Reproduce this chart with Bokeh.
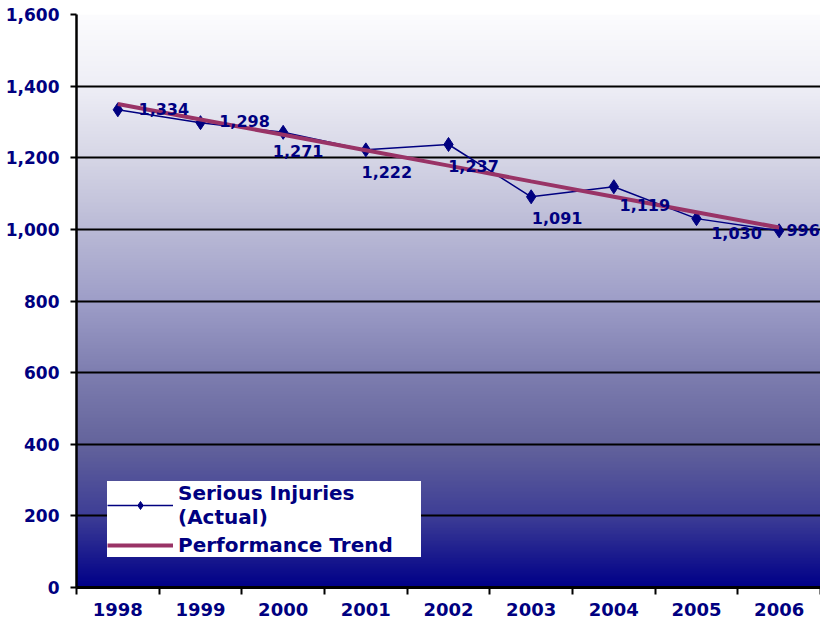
import numpy as np
from bokeh.plotting import figure
from bokeh.models import (ColumnDataSource, Range1d, FixedTicker,
                          NumeralTickFormatter, Legend, LegendItem)
from bokeh.core.properties import value
from bokeh.embed import file_html
from bokeh.resources import INLINE

# ---- data ----
years = ["1998", "1999", "2000", "2001", "2002", "2003", "2004", "2005", "2006"]
injuries = [1334, 1298, 1271, 1222, 1237, 1091, 1119, 1030, 996]
trend = [1350, 1307, 1264, 1221, 1178, 1134, 1091, 1048, 1005]
y_ticks = [0, 200, 400, 600, 800, 1000, 1200, 1400, 1600]

# ---- style ----
NAVY = "#000080"
MAROON = "#993366"
FONT = "DejaVu Sans"
label_dx = [46, 44, 15, 21, 25, 26, 31, 40, 24]
label_dy = [-1, -2, 19, 22, 22, 21, 18, 14, -1]

n = len(years)
xpos = [i + 0.5 for i in range(n)]

p = figure(width=820, height=623, output_backend="svg", toolbar_location=None,
           x_range=Range1d(0, n), y_range=Range1d(y_ticks[0], y_ticks[-1]),
           min_border_left=76, min_border_right=0, min_border_top=14,
           min_border_bottom=36)
p.outline_line_color = None
p.background_fill_color = "white"
p.border_fill_color = "white"

# background gradient (white at top to navy at bottom)
stop_v = y_ticks
stop_rgb = [(0, 0, 136), (62, 62, 150), (100, 100, 156), (126, 126, 176),
            (158, 158, 200), (186, 186, 214), (214, 214, 230), (238, 238, 246),
            (252, 252, 254)]
rows = 400
vals = np.linspace(y_ticks[0], y_ticks[-1], rows)
img = np.empty((rows, 1), dtype=np.uint32)
view = img.view(dtype=np.uint8).reshape((rows, 1, 4))
for k in range(3):
    view[:, 0, k] = np.interp(vals, stop_v, [c[k] for c in stop_rgb]).astype(np.uint8)
view[:, 0, 3] = 255
p.image_rgba(image=[img], x=0, y=y_ticks[0], dw=n, dh=y_ticks[-1] - y_ticks[0],
             level="image")

# grid
p.xgrid.grid_line_color = None
p.ygrid.grid_line_color = "black"
p.ygrid.grid_line_width = 2
p.ygrid.ticker = FixedTicker(ticks=y_ticks)

# y axis
p.yaxis.ticker = FixedTicker(ticks=y_ticks)
p.yaxis.formatter = NumeralTickFormatter(format="0,0")
p.yaxis.axis_line_color = "black"
p.yaxis.axis_line_width = 2.5
p.yaxis.major_tick_line_color = "black"
p.yaxis.major_tick_line_width = 2
p.yaxis.major_tick_out = 6
p.yaxis.major_tick_in = 0
p.yaxis.minor_tick_line_color = None
p.yaxis.major_label_standoff = 11
p.yaxis.major_label_text_font = FONT
p.yaxis.major_label_text_font_style = "bold"
p.yaxis.major_label_text_font_size = "17px"
p.yaxis.major_label_text_color = NAVY

# x axis: labels at centres, tick marks at category boundaries
p.xaxis.ticker = FixedTicker(ticks=xpos, minor_ticks=list(range(n + 1)))
p.xaxis.major_label_overrides = {x: y for x, y in zip(xpos, years)}
p.xaxis.axis_line_color = "black"
p.xaxis.axis_line_width = 3
p.xaxis.major_tick_line_color = None
p.xaxis.major_tick_out = 7
p.xaxis.major_tick_in = 0
p.xaxis.minor_tick_line_color = "black"
p.xaxis.minor_tick_line_width = 2
p.xaxis.minor_tick_out = 7
p.xaxis.minor_tick_in = 0
p.xaxis.major_label_standoff = 8
p.xaxis.major_label_text_font = FONT
p.xaxis.major_label_text_font_style = "bold"
p.xaxis.major_label_text_font_size = "18px"
p.xaxis.major_label_text_color = NAVY

src = ColumnDataSource(dict(x=xpos, y=injuries, t=trend,
                            lab=[f"{v:,}" for v in injuries],
                            dx=label_dx, dy=label_dy))

r_line = p.line("x", "y", source=src, line_color=NAVY, line_width=1.5)
r_mark = p.scatter("x", "y", source=src, marker="diamond", size=14,
                   fill_color=NAVY, line_color=NAVY)
r_trend = p.line("x", "t", source=src, line_color=MAROON, line_width=4)
p.text("x", "y", text="lab", source=src, x_offset="dx", y_offset="dy",
       text_align="center", text_baseline="middle",
       text_font=value(FONT), text_font_style="bold",
       text_font_size="16px", text_color=NAVY)

legend = Legend(items=[
    LegendItem(label="Serious Injuries\n(Actual)", renderers=[r_line, r_mark]),
    LegendItem(label="Performance Trend", renderers=[r_trend]),
], location=(31, 30))
legend.background_fill_color = "white"
legend.background_fill_alpha = 1
legend.border_line_color = None
legend.padding = 10
legend.spacing = 4
legend.margin = 0
legend.glyph_width = 66
legend.label_standoff = 5
legend.label_width = 243
legend.label_text_font = FONT
legend.label_text_font_style = "bold"
legend.label_text_font_size = "20px"
legend.label_text_color = NAVY
p.add_layout(legend, "center")

open("out.html", "w").write(file_html(p, INLINE))
